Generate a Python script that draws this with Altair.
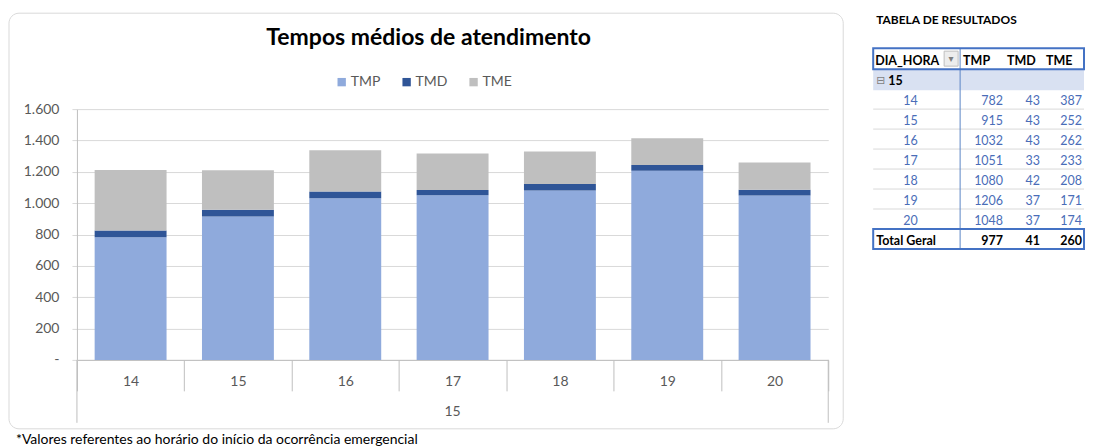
import altair as alt
import pandas as pd

# ---- data ----
hours = ["14", "15", "16", "17", "18", "19", "20"]
tmp = [782, 915, 1032, 1051, 1080, 1206, 1048]
tmd = [43, 43, 43, 33, 42, 37, 37]
tme = [387, 252, 262, 233, 208, 171, 174]
series = ["TMP", "TMD", "TME"]
colors = ["#8FAADC", "#2F5597", "#BFBFBF"]
group_label = "15"
totals = {"TMP": 977, "TMD": 41, "TME": 260}
y_ticks = [0, 200, 400, 600, 800, 1000, 1200, 1400, 1600]

FONT = "Lato"
W, H = 752, 251

rows = []
for i, h in enumerate(hours):
    for k, (s, v) in enumerate(zip(series, [tmp[i], tmd[i], tme[i]])):
        rows.append({"hora": h, "serie": s, "valor": v, "ord": k})
df = pd.DataFrame(rows)

one = pd.DataFrame([{"d": 0}])

# outer rounded frame (no fill so axes stay visible)
frame = alt.Chart(one).mark_rect(fill="transparent", stroke="#D9D9D9", strokeWidth=1, cornerRadius=10).encode(
    x=alt.value(-68), x2=alt.value(767), y=alt.value(-96), y2=alt.value(320))

bars = alt.Chart(df).mark_bar(width=alt.RelativeBandSize(0.67)).encode(
    x=alt.X("hora:N", sort=hours, title=None,
            scale=alt.Scale(paddingInner=0, paddingOuter=0),
            axis=alt.Axis(labelAngle=0, labelFontSize=14, labelColor="#595959", labelFont=FONT,
                          tickBand="extent", tickSize=31, tickColor="#BFBFBF",
                          labelPadding=-16, domainColor="#BFBFBF", grid=False)),
    y=alt.Y("valor:Q", stack="zero", title=None,
            scale=alt.Scale(domain=[0, 1600], nice=False),
            axis=alt.Axis(values=y_ticks, labelFontSize=14, labelColor="#595959", labelFont=FONT,
                          tickSize=5, tickColor="#D9D9D9", labelPadding=13,
                          gridColor="#D9D9D9", domainColor="#BFBFBF",
                          labelExpr="datum.value == 0 ? '-' : replace(format(datum.value, ','), ',', '.')")),
    color=alt.Color("serie:N", scale=alt.Scale(domain=series, range=colors),
                    legend=alt.Legend(orient="none", legendX=258, legendY=-34, direction="horizontal",
                                      title=None, symbolType="square", symbolSize=70,
                                      symbolStrokeWidth=0, labelFontSize=14, labelFont=FONT,
                                      labelColor="#595959", columnPadding=19, labelOffset=2)),
    order=alt.Order("ord:Q"),
)

# long outer separators of the two-level category axis
outer = alt.Chart(pd.DataFrame({"p": [0, W]})).mark_rule(color="#BFBFBF").encode(
    x=alt.X("p:Q", scale=alt.Scale(domain=[0, W], range=[0, W]), axis=None),
    y=alt.value(H), y2=alt.value(314))

grp = alt.Chart(pd.DataFrame({"g": [group_label]})).mark_text(
    fontSize=14, font=FONT, color="#595959").encode(
    x=alt.value(W / 2), y=alt.value(303), text="g:N")

title = alt.Chart(pd.DataFrame({"t": ["Tempos médios de atendimento"]})).mark_text(
    fontSize=23, font=FONT, fontWeight="bold", color="#000000").encode(
    x=alt.value(352), y=alt.value(-71), text="t:N")

foot = alt.Chart(pd.DataFrame({"t": ["*Valores referentes ao horário do início da ocorrência emergencial"]})).mark_text(
    fontSize=14, font=FONT, color="#000000", align="left").encode(
    x=alt.value(-61), y=alt.value(331), text="t:N")

# ---- table ----
TX0, TX1 = 797, 1008   # table left / right (plot coords)
DIV = 884
tab_title = alt.Chart(pd.DataFrame({"t": ["TABELA DE RESULTADOS"]})).mark_text(
    fontSize=12, font=FONT, fontWeight="bold", color="#000000", align="left").encode(
    x=alt.value(800), y=alt.value(-89), text="t:N")

grp_bg = alt.Chart(one).mark_rect(fill="#D9E1F2").encode(
    x=alt.value(TX0), x2=alt.value(TX1), y=alt.value(-40), y2=alt.value(-19))

seps = alt.Chart(pd.DataFrame({"r": [0, 1, 2, 3, 4, 5]})).mark_rule(color="#D9D9D9").encode(
    x=alt.value(TX0), x2=alt.value(TX1),
    y=alt.Y("r:Q", scale=alt.Scale(domain=[0, 6], range=[0, 120]), axis=None))

divider = alt.Chart(one).mark_rule(color="#5B86C5", strokeWidth=1).encode(
    x=alt.value(DIV), y=alt.value(-61), y2=alt.value(140))

hdr_box = alt.Chart(one).mark_rect(fill="transparent", stroke="#4472C4", strokeWidth=2).encode(
    x=alt.value(TX0), x2=alt.value(TX1), y=alt.value(-61), y2=alt.value(-40))
tot_box = alt.Chart(one).mark_rect(fill="transparent", stroke="#4472C4", strokeWidth=2).encode(
    x=alt.value(TX0), x2=alt.value(TX1), y=alt.value(120), y2=alt.value(140))
drop_box = alt.Chart(one).mark_rect(fill="#EDEDED", stroke="#BFBFBF", strokeWidth=1).encode(
    x=alt.value(868), x2=alt.value(882), y=alt.value(-58), y2=alt.value(-43))
drop_arrow = alt.Chart(pd.DataFrame({"t": ["▾"]})).mark_text(
    fontSize=10, font="DejaVu Sans", color="#7F7F7F").encode(
    x=alt.value(875), y=alt.value(-50), text="t:N")

rowY = alt.Scale(domain=[0, 9], range=[-48, 132])

hdr_df = pd.DataFrame({"t": ["DIA_HORA"] + series, "c": ["lab"] + series, "r": [0] * 4})
hdr_x = {"lab": 799, "TMP": 887, "TMD": 931, "TME": 970}
hdr_df["px"] = hdr_df["c"].map(hdr_x)
hdr = alt.Chart(hdr_df).mark_text(fontSize=12.5, font=FONT, fontWeight="bold", color="#000000", align="left").encode(
    x=alt.X("px:Q", scale=alt.Scale(domain=[0, 1], range=[0, 1]), axis=None),
    y=alt.Y("r:Q", scale=rowY, axis=None), text="t:N")

grp_row = alt.Chart(pd.DataFrame({"t": ["⊟"], "r": [1]})).mark_text(
    fontSize=11, font="DejaVu Sans", color="#7F7F7F", align="left").encode(
    x=alt.value(800), y=alt.Y("r:Q", scale=rowY, axis=None), text="t:N")
grp_row2 = alt.Chart(pd.DataFrame({"t": [group_label], "r": [1]})).mark_text(
    fontSize=12.5, font=FONT, fontWeight="bold", color="#000000", align="left").encode(
    x=alt.value(812), y=alt.Y("r:Q", scale=rowY, axis=None), text="t:N")

lab_df = pd.DataFrame({"t": hours, "r": list(range(2, 2 + len(hours)))})
labs = alt.Chart(lab_df).mark_text(fontSize=12.5, font=FONT, color="#4A6DB8", align="left").encode(
    x=alt.value(827), y=alt.Y("r:Q", scale=rowY, axis=None), text="t:N")

num_rows = []
for i, h in enumerate(hours):
    for s, v in zip(series, [tmp[i], tmd[i], tme[i]]):
        num_rows.append({"c": s, "v": str(v), "r": 2 + i})
num_df = pd.DataFrame(num_rows)
col_right = {"TMP": 927, "TMD": 964, "TME": 1006}
num_df["px"] = num_df["c"].map(col_right)
nums = alt.Chart(num_df).mark_text(fontSize=12.5, font=FONT, color="#4A6DB8", align="right").encode(
    x=alt.X("px:Q", scale=alt.Scale(domain=[0, 1], range=[0, 1]), axis=None),
    y=alt.Y("r:Q", scale=rowY, axis=None), text="v:N")

tot_df = pd.DataFrame({"c": series, "v": [str(totals[s]) for s in series], "r": [9] * 3})
tot_df["px"] = tot_df["c"].map(col_right)
tots = alt.Chart(tot_df).mark_text(fontSize=12.5, font=FONT, fontWeight="bold", color="#000000", align="right").encode(
    x=alt.X("px:Q", scale=alt.Scale(domain=[0, 1], range=[0, 1]), axis=None),
    y=alt.Y("r:Q", scale=rowY, axis=None), text="v:N")
tot_lab = alt.Chart(pd.DataFrame({"t": ["Total Geral"], "r": [9]})).mark_text(
    fontSize=12.5, font=FONT, fontWeight="bold", color="#000000", align="left").encode(
    x=alt.value(800), y=alt.Y("r:Q", scale=rowY, axis=None), text="t:N")

chart = alt.layer(
    frame, bars, outer, grp, title, foot,
    tab_title, grp_bg, seps, divider, hdr_box, tot_box, drop_box, drop_arrow,
    hdr, grp_row, grp_row2, labs, nums, tots, tot_lab
).resolve_scale(x="independent", y="independent", color="independent").properties(
    width=W, height=H, padding={"left": 0, "top": 4, "right": 0, "bottom": 0}
).configure_view(stroke=None)

chart.save("out.html", embed_options={"renderer": "svg", "actions": False})
